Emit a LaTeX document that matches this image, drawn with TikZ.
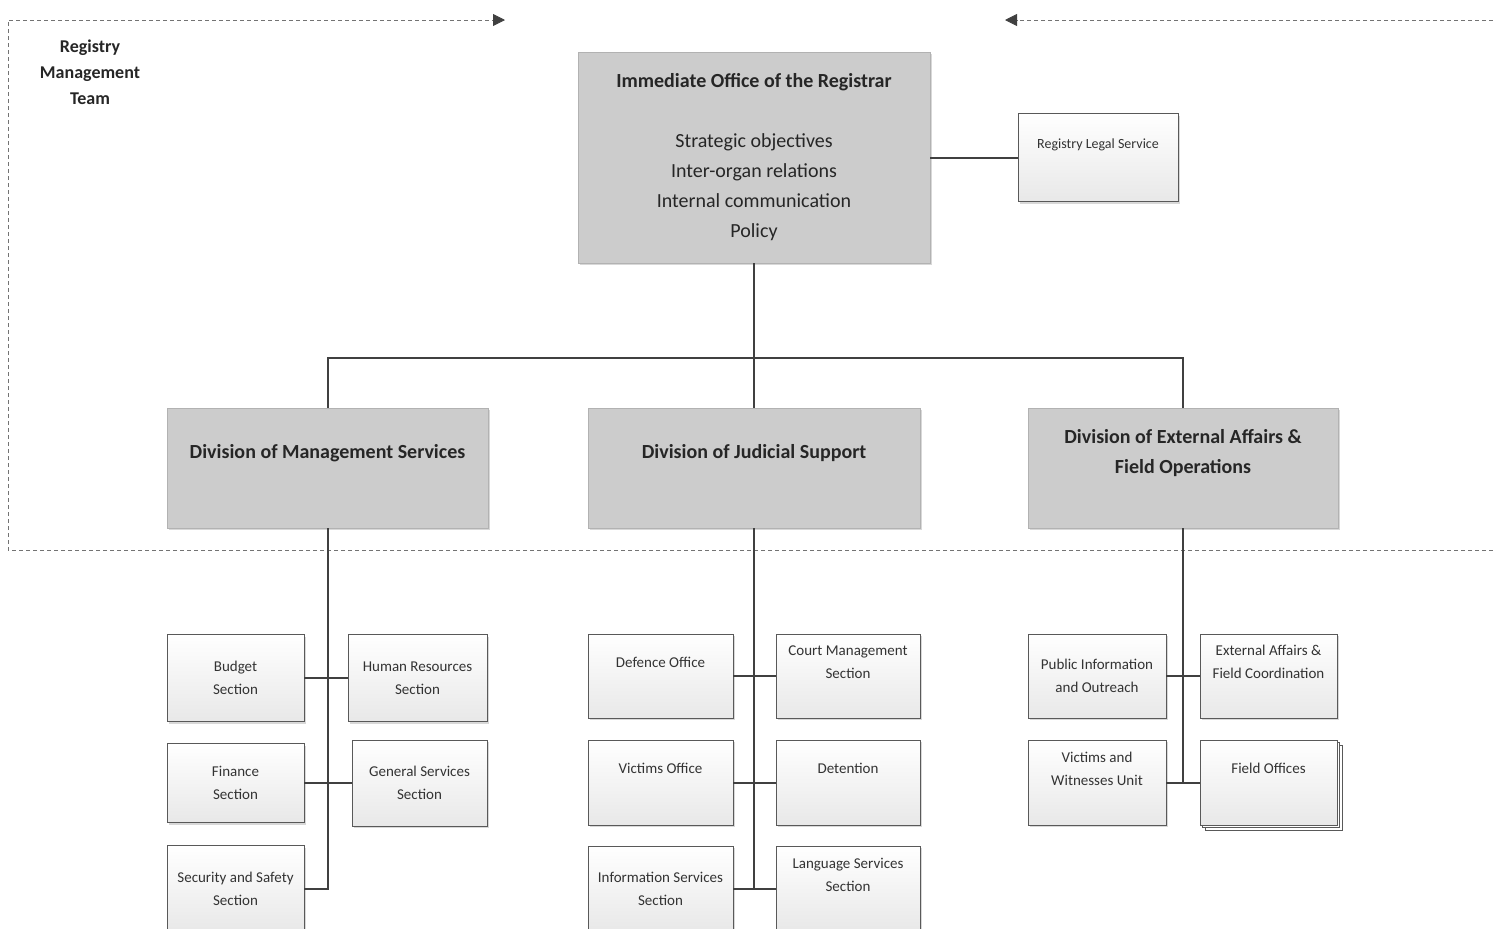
\documentclass[tikz,border=0pt]{standalone}
\usepackage{fontspec}
\setmainfont{Carlito}
\usetikzlibrary{arrows.meta,shadows}
\tikzset{
  linkline/.style={draw=black!75,line width=1pt},
  rmtline/.style={draw=black!55,dashed,line width=0.4pt,dash pattern=on 2pt off 1.5pt},
  rmttip/.style={-{Triangle[length=6pt,width=6pt,color=black!75]}},
  bigbox/.style={draw=black!30,fill=black!20,align=center,text=black!85,
    drop shadow={shadow xshift=1.2pt,shadow yshift=-1.2pt,fill=black!30,opacity=.5},
    font=\bfseries\fontsize{10}{15}\selectfont},
  unitbox/.style={draw=black!65,top color=white,bottom color=black!9,align=center,
    text=black!80,inner sep=1pt,
    drop shadow={shadow xshift=1.2pt,shadow yshift=-1.2pt,fill=black!30,opacity=.5},
    font=\fontsize{7.5}{11.5}\selectfont},
  raised/.style={text depth=14pt},
  divraised/.style={text depth=17pt},
}
\begin{document}
\begin{tikzpicture}[x=0.5pt,y=-0.5pt]
\useasboundingbox (0,0) rectangle (1493,928);
% registry management team boundary
\coordinate (rmtA) at (505,20);
\coordinate (rmtB) at (1005,20);
\draw[rmtline,rmttip] (1493,550) -- (8,550) -- (8,20) -- (rmtA);
\draw[rmtline,rmttip] (1493,20) -- (rmtB);
\node[align=center,font=\bfseries\fontsize{9}{13}\selectfont,text=black!85] (rmt) at (90,72) {Registry\\Management\\Team};
% top level
\node[bigbox,minimum width=176pt,minimum height=105.5pt] (reg) at (754,157.5)
  {Immediate Office of the Registrar\\[15pt]
   \mdseries Strategic objectives\\ \mdseries Inter-organ relations\\ \mdseries Internal communication\\ \mdseries Policy};
\node[unitbox,raised,minimum width=80pt,minimum height=44pt,font=\fontsize{7}{10}\selectfont] (legal) at (1098,157.5) {Registry Legal Service};
% divisions
\node[bigbox,divraised,minimum width=160.5pt,minimum height=60pt] (dms) at (327.5,468) {Division of Management Services};
\node[bigbox,divraised,minimum width=166pt,minimum height=60pt] (djs) at (754,468) {Division of Judicial Support};
\node[bigbox,divraised,minimum width=155pt,minimum height=60pt] (dea) at (1183,468) {Division of External Affairs \&\\Field Operations};
% management services
\node[unitbox,minimum width=68.5pt,minimum height=43.5pt] (budget) at (235.5,678) {Budget\\Section};
\node[unitbox,minimum width=69.5pt,minimum height=43.5pt] (hr) at (417.5,678) {Human Resources\\Section};
\node[unitbox,minimum width=68.5pt,minimum height=39.5pt] (finance) at (235.5,783) {Finance\\Section};
\node[unitbox,minimum width=67.5pt,minimum height=43pt] (gensvc) at (419.5,783) {General Services\\Section};
\node[unitbox,minimum width=68.5pt,minimum height=43pt] (security) at (235.5,888.5) {Security and Safety\\Section};
% judicial support
\node[unitbox,raised,minimum width=72.5pt,minimum height=42pt] (defence) at (660.5,676) {Defence Office};
\node[unitbox,raised,minimum width=72pt,minimum height=42pt] (court) at (848,676) {Court Management\\Section};
\node[unitbox,raised,minimum width=72.5pt,minimum height=42.5pt] (victims) at (660.5,782.5) {Victims Office};
\node[unitbox,raised,minimum width=72pt,minimum height=42.5pt] (detention) at (848,782.5) {Detention};
\node[unitbox,minimum width=72.5pt,minimum height=42.5pt] (infosvc) at (660.5,888.5) {Information Services\\Section};
\node[unitbox,raised,minimum width=72pt,minimum height=42.5pt] (langsvc) at (848,888.5) {Language Services\\Section};
% external affairs
\node[unitbox,minimum width=69pt,minimum height=42pt] (pio) at (1097,676) {Public Information\\and Outreach};
\node[unitbox,raised,minimum width=68.5pt,minimum height=42pt] (eafc) at (1268.5,676) {External Affairs \&\\Field Coordination};
\node[unitbox,raised,minimum width=69pt,minimum height=42.5pt] (vwu) at (1097,782.5) {Victims and\\Witnesses Unit};
\node[unitbox,raised,minimum width=68.5pt,minimum height=42.5pt,
  double copy shadow={shadow xshift=1.4pt,shadow yshift=-1.4pt,fill=white,draw=black!65}] (fieldoff) at (1268.5,782.5) {Field Offices};
% links
\coordinate (hub) at (754,358);
\draw[linkline] (reg.east) -- (legal.west);
\draw[linkline] (reg.south) -- (hub);
\draw[linkline] (dms.north) |- (hub) -| (dea.north);
\draw[linkline] (hub) -- (djs.north);
\draw[linkline] (dms.south) |- (security.east);
\draw[linkline] (budget.east) -- (hr.west);
\draw[linkline] (finance.east) -- (gensvc.west);
\draw[linkline] (djs.south) -- (djs.south |- infosvc.east);
\draw[linkline] (defence.east) -- (court.west);
\draw[linkline] (victims.east) -- (detention.west);
\draw[linkline] (infosvc.east) -- (langsvc.west);
\draw[linkline] (dea.south) -- (dea.south |- vwu.east);
\draw[linkline] (pio.east) -- (eafc.west);
\draw[linkline] (vwu.east) -- (fieldoff.west);
\end{tikzpicture}
\end{document}
